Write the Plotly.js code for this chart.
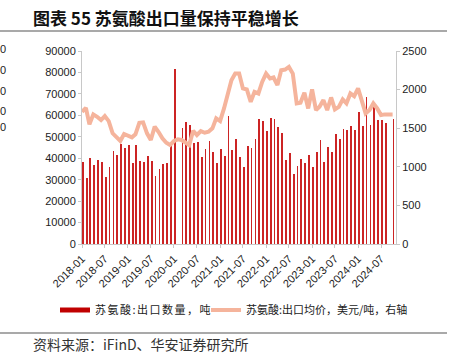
<!DOCTYPE html>
<html>
<head>
<meta charset="utf-8">
<script src="https://cdn.plot.ly/plotly-3.0.1.min.js"></script>
<style>html,body{margin:0;padding:0;background:#fff;}#chart{width:451px;height:361px;}
#chart .scrollbox{clip-path:none !important;}
#chart .legend .legendtext{letter-spacing:1.5px;}
#chart .legend2 .legendtext{letter-spacing:0.45px;}</style>
</head>
<body>
<div id="chart"></div>
<script>
// Months 2018-01 .. 2024-10
const months = [
 "2018-01","2018-02","2018-03","2018-04","2018-05","2018-06","2018-07","2018-08","2018-09","2018-10","2018-11","2018-12",
 "2019-01","2019-02","2019-03","2019-04","2019-05","2019-06","2019-07","2019-08","2019-09","2019-10","2019-11","2019-12",
 "2020-01","2020-02","2020-03","2020-04","2020-05","2020-06","2020-07","2020-08","2020-09","2020-10","2020-11","2020-12",
 "2021-01","2021-02","2021-03","2021-04","2021-05","2021-06","2021-07","2021-08","2021-09","2021-10","2021-11","2021-12",
 "2022-01","2022-02","2022-03","2022-04","2022-05","2022-06","2022-07","2022-08","2022-09","2022-10","2022-11","2022-12",
 "2023-01","2023-02","2023-03","2023-04","2023-05","2023-06","2023-07","2023-08","2023-09","2023-10","2023-11","2023-12",
 "2024-01","2024-02","2024-03","2024-04","2024-05","2024-06","2024-07","2024-08","2024-09","2024-10"
];
// 苏氨酸:出口数量，吨
const exportVolume = [
 38400,30700,40000,36900,39000,38300,31400,35800,43400,41500,46800,44600,
 46000,37900,46000,38900,38300,41000,38600,31700,34900,37300,37600,47700,
 81400,null,54100,56900,55500,47300,47600,40400,44300,47900,43100,37900,
 44200,41000,59600,43800,48900,40400,35800,45700,44900,48800,58300,57300,
 52700,58600,58300,54500,51700,39200,42300,32700,36400,39800,37800,41500,
 35900,42900,48300,38300,45200,42900,51100,48800,53500,53100,55000,53000,
 61500,55000,68600,55300,63800,57600,57800,56400,null,58300
];
// 苏氨酸:出口均价，美元/吨（右轴）
const exportPrice = [
 1713,1764,1550,1679,1648,1605,1657,1592,1434,1390,1334,1425,
 1403,1382,1421,1570,1576,1434,1347,1520,1450,1369,1312,1282,
 1334,1356,1347,1312,1282,1467,1412,1463,1441,1454,1498,1627,
 1592,1756,1950,2122,2208,2208,2015,2002,1842,1971,1950,2100,
 2208,2144,2157,2058,2251,2260,2294,2208,1821,1829,1958,1756,
 2002,1735,1777,1864,1735,1898,1743,1777,1873,1821,1950,1915,
 2015,1842,1692,1735,1821,1756,1670,1679,1679,1679
];
const seriesNames = ["苏氨酸:出口数量，吨", "苏氨酸:出口均价，美元/吨，右轴"];
const titleText = "图表 55 苏氨酸出口量保持平稳增长";
const sourceText = "资料来源：iFinD、华安证券研究所";

const W = 451, H = 361;
const M = {l: 82, r: 55, t: 51, b: 117};
const PW = W - M.l - M.r, PH = H - M.t - M.b;
const px = x => (x - M.l) / PW;
const py = y => (H - M.b - y) / PH;

const cjk = '"Noto Sans CJK SC", "Liberation Sans", sans-serif';
const latin = '"Liberation Sans", Arial, sans-serif';
const DAY = 86400000;

const traces = [
 {
  type: 'bar', x: months, y: exportVolume, yaxis: 'y',
  marker: {color: '#cc2424', line: {width: 0}},
  width: 14 * DAY, offset: 0,
  showlegend: false, hoverinfo: 'skip'
 },
 {
  type: 'scatter', mode: 'lines', x: [null], y: [null], yaxis: 'y',
  name: seriesNames[0], line: {color: '#c00000', width: 5}, showlegend: true, legend: 'legend'
 },
 {
  type: 'scatter', mode: 'lines', x: months, y: exportPrice, yaxis: 'y2',
  name: seriesNames[1], line: {color: '#f5b49c', width: 4, shape: 'linear'},
  connectgaps: true, legend: 'legend2'
 }
];

const axisCommon = {
 showgrid: false, zeroline: false, showline: true, linecolor: '#c8c8c8', linewidth: 1,
 ticks: 'outside', ticklen: 3, tickcolor: '#c8c8c8', tickwidth: 1,
 tickfont: {family: latin, size: 11, color: '#222'}
};

const legendCommon = {
 orientation: 'h', xref: 'paper', yref: 'paper', y: py(310), xanchor: 'left', yanchor: 'middle',
 font: {family: cjk, size: 11, color: '#222'}, itemwidth: 30, bgcolor: 'rgba(0,0,0,0)'
};

const layout = {
 width: W, height: H, margin: M,
 paper_bgcolor: '#fff', plot_bgcolor: '#fff',
 showlegend: true,
 bargap: 0,
 xaxis: Object.assign({}, axisCommon, {
  type: 'date', range: ['2018-01-01', '2024-10-28'],
  tick0: '2018-01-01', dtick: 'M6', tickformat: '%Y-%m', tickangle: -45
 }),
 yaxis: Object.assign({}, axisCommon, {
  range: [0, 90000], dtick: 10000, tickformat: 'd', fixedrange: true
 }),
 yaxis2: Object.assign({}, axisCommon, {
  overlaying: 'y', side: 'right', range: [0, 2500], dtick: 500, tickformat: 'd'
 }),
 legend: Object.assign({}, legendCommon, {x: px(55)}),
 legend2: Object.assign({}, legendCommon, {x: px(206)}),
 shapes: [
  {type: 'line', xref: 'paper', yref: 'paper', x0: px(0), x1: px(447), y0: py(31), y1: py(31),
   line: {color: '#555', width: 1.2}},
  {type: 'line', xref: 'paper', yref: 'paper', x0: px(0), x1: px(447), y0: py(333), y1: py(333),
   line: {color: '#555', width: 1.2}}
 ],
 annotations: [
  {text: '<b>' + titleText + '</b>', xref: 'paper', yref: 'paper', x: px(31), y: py(17),
   xanchor: 'left', yanchor: 'middle', showarrow: false,
   font: {family: cjk, size: 17, color: '#111'}},
  {text: sourceText, xref: 'paper', yref: 'paper', x: px(31), y: py(344),
   xanchor: 'left', yanchor: 'middle', showarrow: false,
   font: {family: cjk, size: 14, color: '#333'}}
 ].concat([49, 70, 91, 111, 127].map(y => ({
   text: '0', xref: 'paper', yref: 'paper', x: px(8), y: py(y), xanchor: 'right', yanchor: 'middle',
   showarrow: false, font: {family: latin, size: 11, color: '#222'}
 })))
};

Plotly.newPlot('chart', traces, layout, {displayModeBar: false, staticPlot: true});
</script>
</body>
</html>
